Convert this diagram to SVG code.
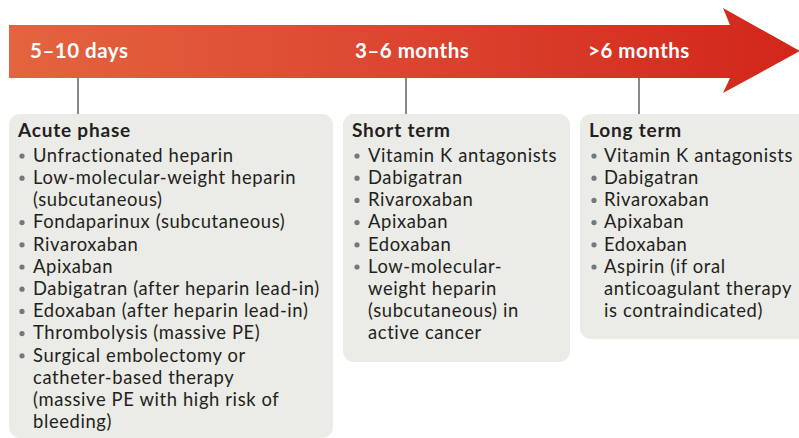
<svg xmlns="http://www.w3.org/2000/svg" width="799" height="438" viewBox="0 0 799 438">
<defs>
<linearGradient id="barGrad" x1="9" y1="0" x2="800" y2="0" gradientUnits="userSpaceOnUse">
<stop offset="0" stop-color="#E4643F"/>
<stop offset="0.5" stop-color="#DC4530"/>
<stop offset="1" stop-color="#D2261A"/>
</linearGradient>
<style>
.hdr{font-family:Lato,"Open Sans",sans-serif;font-weight:700;font-size:20.5px;letter-spacing:0.5px;fill:#FFFFFF}
.txt{font-family:Lato,"Open Sans",sans-serif;font-size:18.4px;letter-spacing:0.62px;fill:#231F20}
.ttl{font-weight:700;font-size:19px;letter-spacing:0.8px}
.box{fill:#EBEBE7}
.bul{fill:#76777A}
.lnk{stroke:#3A3A3A;stroke-width:1.2;fill:none}
</style>
</defs>
<g id="timeline">
<path d="M9,25 H730 L723,8 L800,51 L723,93 L730,78 H9 Z" fill="url(#barGrad)"/>
<text class="hdr" x="30" y="58">5–10 days</text>
<text class="hdr" x="355" y="58">3–6 months</text>
<text class="hdr" x="588" y="58">&gt;6 months</text>
</g>
<g id="connectors">
<line class="lnk" x1="78" y1="78" x2="78" y2="114"/>
<line class="lnk" x1="406" y1="78" x2="406" y2="114"/>
<line class="lnk" x1="639" y1="78" x2="639" y2="114"/>
</g>
<g id="acute">
<rect class="box" x="9" y="114" width="324" height="324" rx="11"/>
<g class="bul">
<circle cx="22" cy="156" r="2.6"/><circle cx="22" cy="178.2" r="2.6"/><circle cx="22" cy="222.6" r="2.6"/>
<circle cx="22" cy="244.8" r="2.6"/><circle cx="22" cy="267" r="2.6"/><circle cx="22" cy="289.2" r="2.6"/>
<circle cx="22" cy="311.4" r="2.6"/><circle cx="22" cy="333.6" r="2.6"/><circle cx="22" cy="355.8" r="2.6"/>
</g>
<text class="txt"><tspan class="ttl" x="18" y="137">Acute phase</tspan><tspan x="33" y="161.7">Unfractionated heparin</tspan><tspan x="33" y="183.9">Low-molecular-weight heparin</tspan><tspan x="33" y="206.1">(subcutaneous)</tspan><tspan x="33" y="228.3">Fondaparinux (subcutaneous)</tspan><tspan x="33" y="250.5">Rivaroxaban</tspan><tspan x="33" y="272.7">Apixaban</tspan><tspan x="33" y="294.9">Dabigatran (after heparin lead-in)</tspan><tspan x="33" y="317.1">Edoxaban (after heparin lead-in)</tspan><tspan x="33" y="339.3">Thrombolysis (massive PE)</tspan><tspan x="33" y="361.5">Surgical embolectomy or</tspan><tspan x="33" y="383.7">catheter-based therapy</tspan><tspan x="33" y="405.9">(massive PE with high risk of</tspan><tspan x="33" y="428.1">bleeding)</tspan></text>
</g>
<g id="short">
<rect class="box" x="343" y="114" width="227" height="248" rx="11"/>
<g class="bul">
<circle cx="357" cy="156" r="2.6"/><circle cx="357" cy="178.2" r="2.6"/><circle cx="357" cy="200.4" r="2.6"/>
<circle cx="357" cy="222.6" r="2.6"/><circle cx="357" cy="244.8" r="2.6"/><circle cx="357" cy="267" r="2.6"/>
</g>
<text class="txt"><tspan class="ttl" x="352" y="137">Short term</tspan><tspan x="368" y="161.7">Vitamin K antagonists</tspan><tspan x="368" y="183.9">Dabigatran</tspan><tspan x="368" y="206.1">Rivaroxaban</tspan><tspan x="368" y="228.3">Apixaban</tspan><tspan x="368" y="250.5">Edoxaban</tspan><tspan x="368" y="272.7">Low-molecular-</tspan><tspan x="368" y="294.9">weight heparin</tspan><tspan x="368" y="317.1">(subcutaneous) in</tspan><tspan x="368" y="339.3">active cancer</tspan></text>
</g>
<g id="long">
<rect class="box" x="580" y="114" width="232" height="225" rx="11"/>
<g class="bul">
<circle cx="594" cy="156" r="2.6"/><circle cx="594" cy="178.2" r="2.6"/><circle cx="594" cy="200.4" r="2.6"/>
<circle cx="594" cy="222.6" r="2.6"/><circle cx="594" cy="244.8" r="2.6"/><circle cx="594" cy="267" r="2.6"/>
</g>
<text class="txt"><tspan class="ttl" x="589" y="137">Long term</tspan><tspan x="604" y="161.7">Vitamin K antagonists</tspan><tspan x="604" y="183.9">Dabigatran</tspan><tspan x="604" y="206.1">Rivaroxaban</tspan><tspan x="604" y="228.3">Apixaban</tspan><tspan x="604" y="250.5">Edoxaban</tspan><tspan x="604" y="272.7">Aspirin (if oral</tspan><tspan x="604" y="294.9">anticoagulant therapy</tspan><tspan x="604" y="317.1">is contraindicated)</tspan></text>
</g>
</svg>
